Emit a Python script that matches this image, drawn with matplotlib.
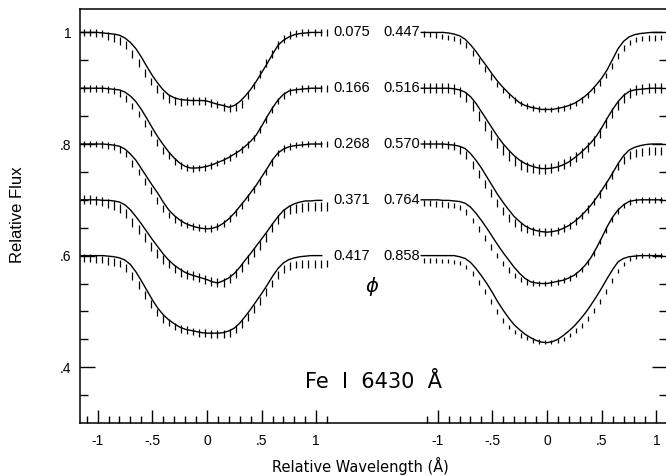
import numpy as np
import matplotlib.pyplot as plt

# wavelength grids (relative, Angstrom)
x_model = np.round(np.arange(-1.15, 1.06, 0.05), 3)
x_data = np.round(-1.125 + 0.0555 * np.arange(41), 4)
x_shift = 3.11  # right-hand panel offset

cont = [1.0, 0.9, 0.8, 0.7, 0.6]
phase_left = ['0.075', '0.166', '0.268', '0.371', '0.417']
phase_right = ['0.447', '0.516', '0.570', '0.764', '0.858']

# --- left panel: model fits (normalised flux) ---
mod_075 = [1.000, 1.000, 1.000, 1.000, 0.999, 0.998, 0.997, 0.995, 0.990, 0.982, 0.971, 0.956,
           0.939, 0.923, 0.909, 0.897, 0.888, 0.883, 0.880, 0.879, 0.878, 0.878, 0.878, 0.877,
           0.874, 0.871, 0.869, 0.866, 0.869, 0.876, 0.886, 0.898, 0.912, 0.928, 0.944, 0.961,
           0.977, 0.986, 0.992, 0.996, 0.998, 0.999, 1.000, 1.000, 1.000]
mod_166 = [1.000, 1.000, 1.000, 1.000, 1.000, 0.999, 0.998, 0.997, 0.993, 0.986, 0.976, 0.962,
           0.946, 0.929, 0.913, 0.899, 0.886, 0.875, 0.866, 0.860, 0.857, 0.857, 0.858, 0.860,
           0.863, 0.867, 0.871, 0.876, 0.882, 0.888, 0.896, 0.905, 0.916, 0.932, 0.949, 0.965,
           0.979, 0.989, 0.995, 0.997, 0.998, 0.999, 1.000, 1.000, 1.000]
mod_268 = [1.000, 1.000, 1.000, 1.000, 1.000, 0.999, 0.998, 0.996, 0.991, 0.982, 0.971, 0.956,
           0.941, 0.926, 0.912, 0.896, 0.882, 0.872, 0.864, 0.858, 0.854, 0.851, 0.849, 0.848,
           0.849, 0.852, 0.858, 0.866, 0.876, 0.888, 0.900, 0.913, 0.926, 0.941, 0.956, 0.972,
           0.984, 0.991, 0.995, 0.997, 0.998, 0.999, 1.000, 1.000, 1.000]
mod_371 = [1.000, 1.000, 1.000, 1.000, 0.999, 0.999, 0.998, 0.996, 0.991, 0.982, 0.970, 0.957,
           0.943, 0.929, 0.916, 0.903, 0.892, 0.883, 0.876, 0.870, 0.866, 0.863, 0.860, 0.857,
           0.853, 0.851, 0.855, 0.860, 0.868, 0.879, 0.892, 0.904, 0.917, 0.930, 0.943, 0.957,
           0.970, 0.981, 0.988, 0.993, 0.996, 0.998, 0.998, 0.999, 0.999]
mod_417 = [1.000, 1.000, 1.000, 1.000, 1.000, 0.999, 0.998, 0.996, 0.992, 0.984, 0.971, 0.955,
           0.938, 0.921, 0.906, 0.894, 0.885, 0.878, 0.872, 0.868, 0.866, 0.864, 0.862, 0.861,
           0.861, 0.861, 0.862, 0.865, 0.870, 0.879, 0.891, 0.904, 0.918, 0.932, 0.947, 0.963,
           0.977, 0.987, 0.993, 0.996, 0.998, 0.999, 1.000, 1.000, 1.000]

# --- left panel: observed profiles ---
dat_075 = [1.000, 1.000, 0.999, 0.998, 0.994, 0.990, 0.985, 0.978, 0.962, 0.945, 0.928, 0.912,
           0.898, 0.887, 0.880, 0.877, 0.876, 0.877, 0.877, 0.877, 0.877, 0.874, 0.871, 0.867,
           0.865, 0.866, 0.872, 0.887, 0.905, 0.925, 0.945, 0.962, 0.978, 0.988, 0.995, 0.998,
           1.000, 1.000, 1.000, 1.000, 1.000]
dat_166 = [1.000, 1.000, 1.000, 0.999, 0.998, 0.996, 0.991, 0.982, 0.968, 0.954, 0.937, 0.920,
           0.903, 0.889, 0.880, 0.869, 0.862, 0.858, 0.856, 0.857, 0.858, 0.862, 0.866, 0.871,
           0.876, 0.883, 0.890, 0.899, 0.911, 0.926, 0.944, 0.962, 0.977, 0.987, 0.994, 0.997,
           0.999, 1.000, 1.000, 1.000, 1.000]
dat_268 = [1.000, 1.000, 1.000, 0.999, 0.997, 0.995, 0.990, 0.982, 0.965, 0.950, 0.933, 0.917,
           0.899, 0.885, 0.873, 0.865, 0.859, 0.855, 0.852, 0.850, 0.849, 0.849, 0.852, 0.858,
           0.866, 0.877, 0.890, 0.904, 0.918, 0.932, 0.950, 0.967, 0.984, 0.992, 0.996, 0.998,
           1.000, 1.000, 1.000, 1.000, 1.000]
dat_371 = [1.000, 1.000, 0.999, 0.997, 0.993, 0.990, 0.985, 0.976, 0.960, 0.946, 0.932, 0.917,
           0.903, 0.893, 0.885, 0.876, 0.870, 0.866, 0.864, 0.861, 0.858, 0.854, 0.851, 0.852,
           0.859, 0.868, 0.878, 0.893, 0.905, 0.918, 0.932, 0.950, 0.965, 0.975, 0.982, 0.985,
           0.987, 0.988, 0.988, 0.988, 0.988]
dat_417 = [0.995, 0.995, 0.994, 0.993, 0.991, 0.989, 0.986, 0.978, 0.963, 0.947, 0.930, 0.913,
           0.898, 0.887, 0.880, 0.873, 0.869, 0.866, 0.864, 0.862, 0.861, 0.860, 0.860, 0.860,
           0.862, 0.868, 0.878, 0.890, 0.904, 0.918, 0.935, 0.950, 0.965, 0.976, 0.982, 0.984,
           0.985, 0.985, 0.985, 0.985, 0.986]

# --- right panel: model fits ---
mod_447 = [1.000, 1.000, 1.000, 1.000, 1.000, 0.999, 0.997, 0.994, 0.988, 0.978, 0.966, 0.952,
           0.939, 0.925, 0.912, 0.901, 0.891, 0.882, 0.874, 0.869, 0.866, 0.864, 0.862, 0.862,
           0.862, 0.864, 0.866, 0.869, 0.873, 0.879, 0.886, 0.895, 0.906, 0.918, 0.933, 0.952,
           0.971, 0.984, 0.992, 0.996, 0.998, 0.999, 1.000, 1.000, 1.000]
mod_516 = [1.000, 1.000, 1.000, 1.000, 1.000, 1.000, 0.999, 0.997, 0.993, 0.985, 0.973, 0.958,
           0.943, 0.928, 0.913, 0.900, 0.889, 0.879, 0.871, 0.865, 0.861, 0.858, 0.856, 0.856,
           0.857, 0.859, 0.863, 0.868, 0.875, 0.883, 0.892, 0.902, 0.914, 0.929, 0.946, 0.962,
           0.976, 0.987, 0.994, 0.997, 0.998, 0.999, 1.000, 1.000, 1.000]
mod_570 = [1.000, 1.000, 1.000, 1.000, 1.000, 0.999, 0.998, 0.996, 0.992, 0.983, 0.971, 0.957,
           0.941, 0.925, 0.909, 0.895, 0.882, 0.870, 0.861, 0.853, 0.848, 0.845, 0.843, 0.842,
           0.843, 0.845, 0.849, 0.854, 0.861, 0.869, 0.879, 0.890, 0.903, 0.917, 0.932, 0.948,
           0.965, 0.979, 0.989, 0.994, 0.997, 0.999, 1.000, 1.000, 1.000]
mod_764 = [1.000, 1.000, 1.000, 1.000, 0.999, 0.999, 0.998, 0.997, 0.994, 0.987, 0.976, 0.963,
           0.949, 0.934, 0.919, 0.905, 0.892, 0.879, 0.868, 0.859, 0.853, 0.851, 0.850, 0.850,
           0.852, 0.854, 0.856, 0.860, 0.865, 0.873, 0.883, 0.896, 0.913, 0.932, 0.952, 0.969,
           0.982, 0.991, 0.997, 0.999, 1.000, 1.000, 1.000, 1.000, 1.000]
mod_858 = [1.000, 1.000, 1.000, 1.000, 1.000, 1.000, 1.000, 0.998, 0.995, 0.988, 0.977, 0.964,
           0.950, 0.934, 0.917, 0.902, 0.888, 0.876, 0.867, 0.859, 0.853, 0.848, 0.845, 0.844,
           0.846, 0.850, 0.857, 0.865, 0.874, 0.885, 0.897, 0.911, 0.926, 0.942, 0.959, 0.975,
           0.989, 0.995, 0.998, 0.999, 1.000, 1.000, 1.000, 1.000, 1.000]

# --- right panel: observed profiles ---
dat_447 = [0.997, 0.996, 0.995, 0.993, 0.991, 0.989, 0.985, 0.977, 0.963, 0.949, 0.934, 0.920,
           0.907, 0.896, 0.887, 0.879, 0.873, 0.868, 0.865, 0.863, 0.862, 0.862, 0.863, 0.865,
           0.868, 0.873, 0.879, 0.887, 0.897, 0.909, 0.923, 0.940, 0.958, 0.972, 0.982, 0.987,
           0.989, 0.990, 0.990, 0.991, 0.991]
dat_516 = [1.001, 1.001, 1.001, 1.000, 1.000, 0.998, 0.994, 0.985, 0.968, 0.951, 0.933, 0.917,
           0.902, 0.889, 0.878, 0.869, 0.863, 0.859, 0.857, 0.856, 0.856, 0.857, 0.860, 0.864,
           0.869, 0.876, 0.884, 0.894, 0.905, 0.920, 0.938, 0.955, 0.970, 0.983, 0.992, 0.996,
           0.999, 1.001, 1.001, 1.001, 1.001]
dat_570 = [1.000, 1.000, 1.000, 0.999, 0.998, 0.996, 0.990, 0.980, 0.963, 0.947, 0.929, 0.912,
           0.895, 0.880, 0.868, 0.858, 0.851, 0.847, 0.844, 0.843, 0.843, 0.843, 0.845, 0.849,
           0.854, 0.862, 0.872, 0.884, 0.897, 0.911, 0.926, 0.944, 0.960, 0.972, 0.980, 0.984,
           0.986, 0.987, 0.987, 0.987, 0.987]
dat_764 = [0.994, 0.994, 0.993, 0.992, 0.991, 0.990, 0.986, 0.978, 0.963, 0.948, 0.932, 0.915,
           0.900, 0.886, 0.874, 0.864, 0.857, 0.853, 0.851, 0.850, 0.850, 0.851, 0.853, 0.856,
           0.860, 0.866, 0.875, 0.888, 0.905, 0.925, 0.946, 0.965, 0.980, 0.990, 0.996, 0.999,
           1.000, 1.000, 1.000, 1.000, 1.000]
dat_858 = [0.991, 0.991, 0.991, 0.990, 0.990, 0.989, 0.987, 0.980, 0.968, 0.952, 0.936, 0.918,
           0.900, 0.884, 0.872, 0.863, 0.857, 0.852, 0.848, 0.846, 0.845, 0.845, 0.847, 0.851,
           0.858, 0.866, 0.875, 0.887, 0.902, 0.918, 0.936, 0.955, 0.972, 0.985, 0.994, 0.998,
           1.000, 1.000, 1.000, 1.000, 1.000]

err_left = [0.007, 0.006, 0.006, 0.008, 0.007]
err_right = [0.005, 0.009, 0.007, 0.005, 0.004]

models_left = [mod_075, mod_166, mod_268, mod_371, mod_417]
data_left = [dat_075, dat_166, dat_268, dat_371, dat_417]
models_right = [mod_447, mod_516, mod_570, mod_764, mod_858]
data_right = [dat_447, dat_516, dat_570, dat_764, dat_858]

plt.rcParams['font.family'] = ['Liberation Sans', 'DejaVu Sans']

fig = plt.figure(figsize=(6.66, 4.76), dpi=100)
ax = fig.add_axes([80 / 666, 1 - 423 / 476, 587.3 / 666, 414 / 476])

for k in range(5):
    shift = cont[k] - 1.0
    # left panel
    ax.plot(x_model, np.array(models_left[k]) + shift, color='black', lw=1.0)
    yd = np.array(data_left[k]) + shift
    ax.vlines(x_data, yd - err_left[k], yd + err_left[k], color='black', lw=0.9)
    ax.text(1.16, cont[k], phase_left[k], ha='left', va='center', fontsize=10.5)
    # right panel
    ax.plot(x_model + x_shift, np.array(models_right[k]) + shift, color='black', lw=1.0)
    yd = np.array(data_right[k]) + shift
    ax.vlines(x_data + x_shift, yd - err_right[k], yd + err_right[k], color='black', lw=0.9)
    ax.text(1.952, cont[k], phase_right[k], ha='right', va='center', fontsize=10.5)

ax.text(1.508, 0.544, r'$\phi$', ha='center', va='center', fontsize=14)
ax.text(1.52, 0.374, 'Fe  I  6430  Å', ha='center', va='center', fontsize=15,
        family='DejaVu Sans')

ax.set_xlim(-1.161, 4.154)
ax.set_ylim(0.300, 1.042)

# x ticks: same scale repeated for both panels
major_x = [-1, -0.5, 0, 0.5, 1]
major_lab = ['-1', '-.5', '0', '.5', '1']
minor_x = [v / 10 for v in range(-11, 12) if v % 5 != 0]
ax.set_xticks(major_x + [v + x_shift for v in major_x])
ax.set_xticklabels(major_lab + major_lab)
ax.set_xticks(minor_x + [v + x_shift for v in minor_x], minor=True)

ax.set_yticks([0.4, 0.6, 0.8, 1.0])
ax.set_yticklabels(['.4', '.6', '.8', '1'])
ax.set_yticks(np.round(np.arange(0.35, 1.01, 0.05), 2), minor=True)

ax.tick_params(which='both', direction='in', top=False, right=True, labelsize=10,
               color='black', width=1.0)
ax.tick_params(axis='x', which='major', length=9.5, pad=8)
ax.tick_params(axis='x', which='minor', length=5)
ax.tick_params(axis='y', which='major', length=11, pad=6)
ax.tick_params(axis='y', which='minor', length=6)
for s in ax.spines.values():
    s.set_linewidth(1.1)

fig.text(360 / 666, 1 - 466 / 476, 'Relative Wavelength (Å)', ha='center', va='center',
         fontsize=10.5, family='DejaVu Sans')
fig.text(18 / 666, 1 - 215 / 476, 'Relative Flux', ha='center', va='center',
         rotation=90, fontsize=12)

fig.savefig('out.png', dpi=100)
